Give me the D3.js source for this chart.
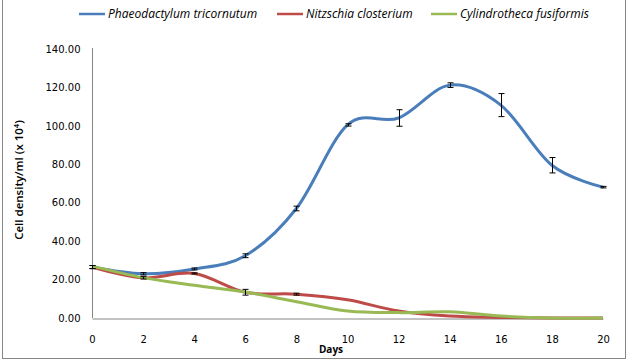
<!DOCTYPE html>
<html><head><meta charset="utf-8">
<script src="https://cdn.jsdelivr.net/npm/d3@7"></script>
<style>body{margin:0;background:#fff}</style>
</head><body>
<script>
const days = [0,2,4,6,8,10,12,14,16,18,20];
const phaeo = [26.5,23,25.5,32.4,57,100.5,104.1,121.2,110.8,79.5,68.1];
const phaeoErr = [0.8,0.6,0.5,1.0,1.2,0.6,4.3,1.2,6.0,4.0,0.4];
const nitz = [26.5,20.9,23.2,13.4,12.4,9.5,3.6,1.0,0.3,0,0];
const nitzErr = [0.8,0.6,0.3,1.5,0.5,0,0,0,0,0,0];
const cyl = [27,21,17,13.5,8.5,3.6,2.8,3.2,1.0,0,0];
const yTicks = [0,20,40,60,80,100,120,140];
const seriesNames = ["Phaeodactylum tricornutum","Nitzschia closterium","Cylindrotheca fusiformis"];
const colors = ["#4A7EBB","#BE4B48","#98B954"];

const W=629,H=361;
const svg=d3.select("body").append("svg").attr("width",W).attr("height",H);
svg.append("rect").attr("x",2.5).attr("y",-1).attr("width",623).attr("height",359.5)
  .attr("fill","#fff").attr("stroke","#868686").attr("stroke-width",1);

const x=d3.scaleLinear().domain([0,20]).range([92,603]);
const y=d3.scaleLinear().domain([0,140]).range([318,49]);
const font="DejaVu Sans";

// axes
const yAx=svg.append("g").attr("transform","translate(92.5,0)")
  .call(d3.axisLeft(y).tickValues(yTicks).tickFormat(d3.format(".2f")).tickSize(0).tickPadding(12));
const xAx=svg.append("g").attr("transform","translate(0,318.5)")
  .call(d3.axisBottom(x).tickValues(days).tickFormat(d3.format("d")).tickSize(0).tickPadding(17));
[yAx,xAx].forEach(g=>{
  g.select(".domain").attr("stroke","#868686");
  g.selectAll("text").attr("font-family",font).attr("font-size","10px").attr("fill","#000");
});
yAx.select(".domain").attr("d","M0,48V318");

const data=[phaeo,nitz,cyl];
const errs=[phaeoErr,nitzErr,null];
const line=d3.line().x((d,i)=>x(days[i])).y(d=>y(d)).curve(d3.curveCardinal.tension(0));
data.forEach((s,k)=>{
  svg.append("path").datum(s).attr("d",line).attr("fill","none")
    .attr("stroke",colors[k]).attr("stroke-width",3).attr("stroke-linejoin","round");
});
// error bars
errs.forEach((e,k)=>{
  if(!e) return;
  const s=data[k];
  const g=svg.append("g").attr("stroke","#000").attr("stroke-width",1).attr("fill","none");
  days.forEach((d,i)=>{
    if(e[i]<=0) return;
    const cx=Math.round(x(d))+0.5, y1=y(s[i]+e[i]), y2=y(s[i]-e[i]);
    g.append("path").attr("d",`M${cx},${y1}V${y2}M${cx-3},${y1}H${cx+3}M${cx-3},${y2}H${cx+3}`);
  });
});

// legend
const lx=[79,277,431];
seriesNames.forEach((n,k)=>{
  svg.append("line").attr("x1",lx[k]).attr("x2",lx[k]+26).attr("y1",14).attr("y2",14)
    .attr("stroke",colors[k]).attr("stroke-width",2.5);
  svg.append("text").attr("x",lx[k]+29).attr("y",18).text(n)
    .attr("font-family","Open Sans").attr("font-style","italic").attr("font-size","12px");
});

// axis titles
svg.append("text").attr("x",331).attr("y",353).attr("text-anchor","middle")
  .attr("font-family","Open Sans").attr("font-weight","bold").attr("font-size","10px").text("Days");
const yt=svg.append("text").attr("transform","translate(23,180) rotate(-90)").attr("text-anchor","middle")
  .attr("font-family","Open Sans").attr("font-weight","600").attr("font-size","11.5px");
yt.append("tspan").text("Cell density/ml (x 10");
yt.append("tspan").text("4").attr("font-size","7.5px").attr("dy","-4");
yt.append("tspan").text(")").attr("dy","4");
</script>
</body></html>
